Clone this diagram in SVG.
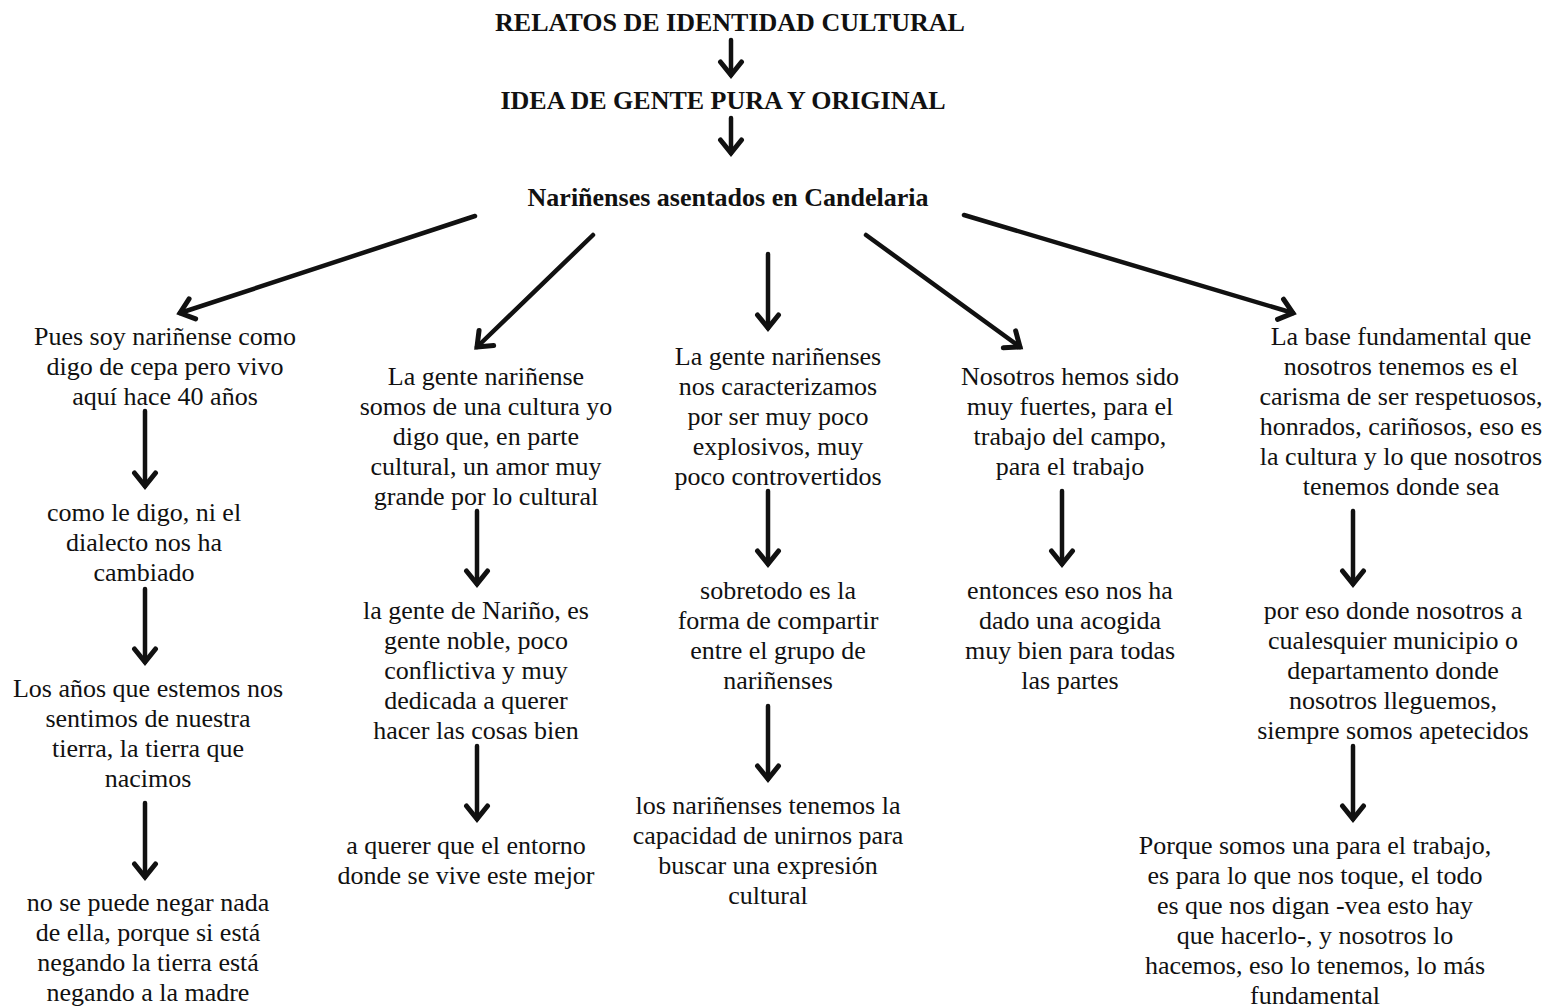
<svg xmlns="http://www.w3.org/2000/svg" width="1550" height="1007" viewBox="0 0 1550 1007">
  <style>
    text { font-family: "Liberation Serif", "Times New Roman", serif; font-size: 26px; fill: #111; text-anchor: middle; }
    .head { font-weight: bold; }
    .arrow { stroke: #111; stroke-width: 4.5; fill: none; stroke-linecap: round; marker-end: url(#head); }
  </style>
  <defs>
    <marker id="head" viewBox="-20 -14 26 28" refX="0" refY="0" markerWidth="26" markerHeight="28" markerUnits="userSpaceOnUse" orient="auto">
      <path d="M-13,-10.5 L0,0 L-13,10.5" fill="none" stroke="#111" stroke-width="5" stroke-linecap="round" stroke-linejoin="miter"/>
    </marker>
  </defs>
  <rect width="1550" height="1007" fill="#fff"/>

  <g id="connectors">
    <line class="arrow" x1="731" y1="40" x2="731" y2="75"/>
    <line class="arrow" x1="731" y1="118" x2="731" y2="153"/>
    <line class="arrow" x1="475" y1="216" x2="180" y2="313"/>
    <line class="arrow" x1="593" y1="235" x2="477" y2="347"/>
    <line class="arrow" x1="768" y1="254" x2="768" y2="328"/>
    <line class="arrow" x1="866" y1="235" x2="1020" y2="347"/>
    <line class="arrow" x1="964" y1="215" x2="1293" y2="313"/>
    <line class="arrow" x1="145" y1="411" x2="145" y2="486"/>
    <line class="arrow" x1="145" y1="589" x2="145" y2="662"/>
    <line class="arrow" x1="145" y1="803" x2="145" y2="877"/>
    <line class="arrow" x1="477" y1="511" x2="477" y2="584"/>
    <line class="arrow" x1="477" y1="746" x2="477" y2="819"/>
    <line class="arrow" x1="768" y1="491" x2="768" y2="564"/>
    <line class="arrow" x1="768" y1="706" x2="768" y2="779"/>
    <line class="arrow" x1="1062" y1="491" x2="1062" y2="564"/>
    <line class="arrow" x1="1353" y1="511" x2="1353" y2="584"/>
    <line class="arrow" x1="1353" y1="746" x2="1353" y2="819"/>
  </g>

  <g id="title"><text class="head" x="730" y="31">RELATOS DE IDENTIDAD CULTURAL</text></g>
  <g id="idea"><text class="head" x="723" y="109">IDEA DE GENTE PURA Y ORIGINAL</text></g>
  <g id="narinenses"><text class="head" x="728" y="206">Nariñenses asentados en Candelaria</text></g>

  <g id="c1-n1">
    <text x="165" y="345">Pues soy nariñense como</text>
    <text x="165" y="375">digo de cepa pero vivo</text>
    <text x="165" y="405">aquí hace 40 años</text>
  </g>
  <g id="c1-n2">
    <text x="144" y="521">como le digo, ni el</text>
    <text x="144" y="551">dialecto nos ha</text>
    <text x="144" y="581">cambiado</text>
  </g>
  <g id="c1-n3">
    <text x="148" y="697">Los años que estemos nos</text>
    <text x="148" y="727">sentimos de nuestra</text>
    <text x="148" y="757">tierra, la tierra que</text>
    <text x="148" y="787">nacimos</text>
  </g>
  <g id="c1-n4">
    <text x="148" y="911">no se puede negar nada</text>
    <text x="148" y="941">de ella, porque si está</text>
    <text x="148" y="971">negando la tierra está</text>
    <text x="148" y="1001">negando a la madre</text>
  </g>

  <g id="c2-n1">
    <text x="486" y="385">La gente nariñense</text>
    <text x="486" y="415">somos de una cultura yo</text>
    <text x="486" y="445">digo que, en parte</text>
    <text x="486" y="475">cultural, un amor muy</text>
    <text x="486" y="505">grande por lo cultural</text>
  </g>
  <g id="c2-n2">
    <text x="476" y="619">la gente de Nariño, es</text>
    <text x="476" y="649">gente noble, poco</text>
    <text x="476" y="679">conflictiva y muy</text>
    <text x="476" y="709">dedicada a querer</text>
    <text x="476" y="739">hacer las cosas bien</text>
  </g>
  <g id="c2-n3">
    <text x="466" y="854">a querer que el entorno</text>
    <text x="466" y="884">donde se vive este mejor</text>
  </g>

  <g id="c3-n1">
    <text x="778" y="365">La gente nariñenses</text>
    <text x="778" y="395">nos caracterizamos</text>
    <text x="778" y="425">por ser muy poco</text>
    <text x="778" y="455">explosivos, muy</text>
    <text x="778" y="485">poco controvertidos</text>
  </g>
  <g id="c3-n2">
    <text x="778" y="599">sobretodo es la</text>
    <text x="778" y="629">forma de compartir</text>
    <text x="778" y="659">entre el grupo de</text>
    <text x="778" y="689">nariñenses</text>
  </g>
  <g id="c3-n3">
    <text x="768" y="814">los nariñenses tenemos la</text>
    <text x="768" y="844">capacidad de unirnos para</text>
    <text x="768" y="874">buscar una expresión</text>
    <text x="768" y="904">cultural</text>
  </g>

  <g id="c4-n1">
    <text x="1070" y="385">Nosotros hemos sido</text>
    <text x="1070" y="415">muy fuertes, para el</text>
    <text x="1070" y="445">trabajo del campo,</text>
    <text x="1070" y="475">para el trabajo</text>
  </g>
  <g id="c4-n2">
    <text x="1070" y="599">entonces eso nos ha</text>
    <text x="1070" y="629">dado una acogida</text>
    <text x="1070" y="659">muy bien para todas</text>
    <text x="1070" y="689">las partes</text>
  </g>

  <g id="c5-n1">
    <text x="1401" y="345">La base fundamental que</text>
    <text x="1401" y="375">nosotros tenemos es el</text>
    <text x="1401" y="405">carisma de ser respetuosos,</text>
    <text x="1401" y="435">honrados, cariñosos, eso es</text>
    <text x="1401" y="465">la cultura y lo que nosotros</text>
    <text x="1401" y="495">tenemos donde sea</text>
  </g>
  <g id="c5-n2">
    <text x="1393" y="619">por eso donde nosotros a</text>
    <text x="1393" y="649">cualesquier municipio o</text>
    <text x="1393" y="679">departamento donde</text>
    <text x="1393" y="709">nosotros lleguemos,</text>
    <text x="1393" y="739">siempre somos apetecidos</text>
  </g>
  <g id="c5-n3">
    <text x="1315" y="854">Porque somos una para el trabajo,</text>
    <text x="1315" y="884">es para lo que nos toque, el todo</text>
    <text x="1315" y="914">es que nos digan -vea esto hay</text>
    <text x="1315" y="944">que hacerlo-, y nosotros lo</text>
    <text x="1315" y="974">hacemos, eso lo tenemos, lo más</text>
    <text x="1315" y="1004">fundamental</text>
  </g>
</svg>
